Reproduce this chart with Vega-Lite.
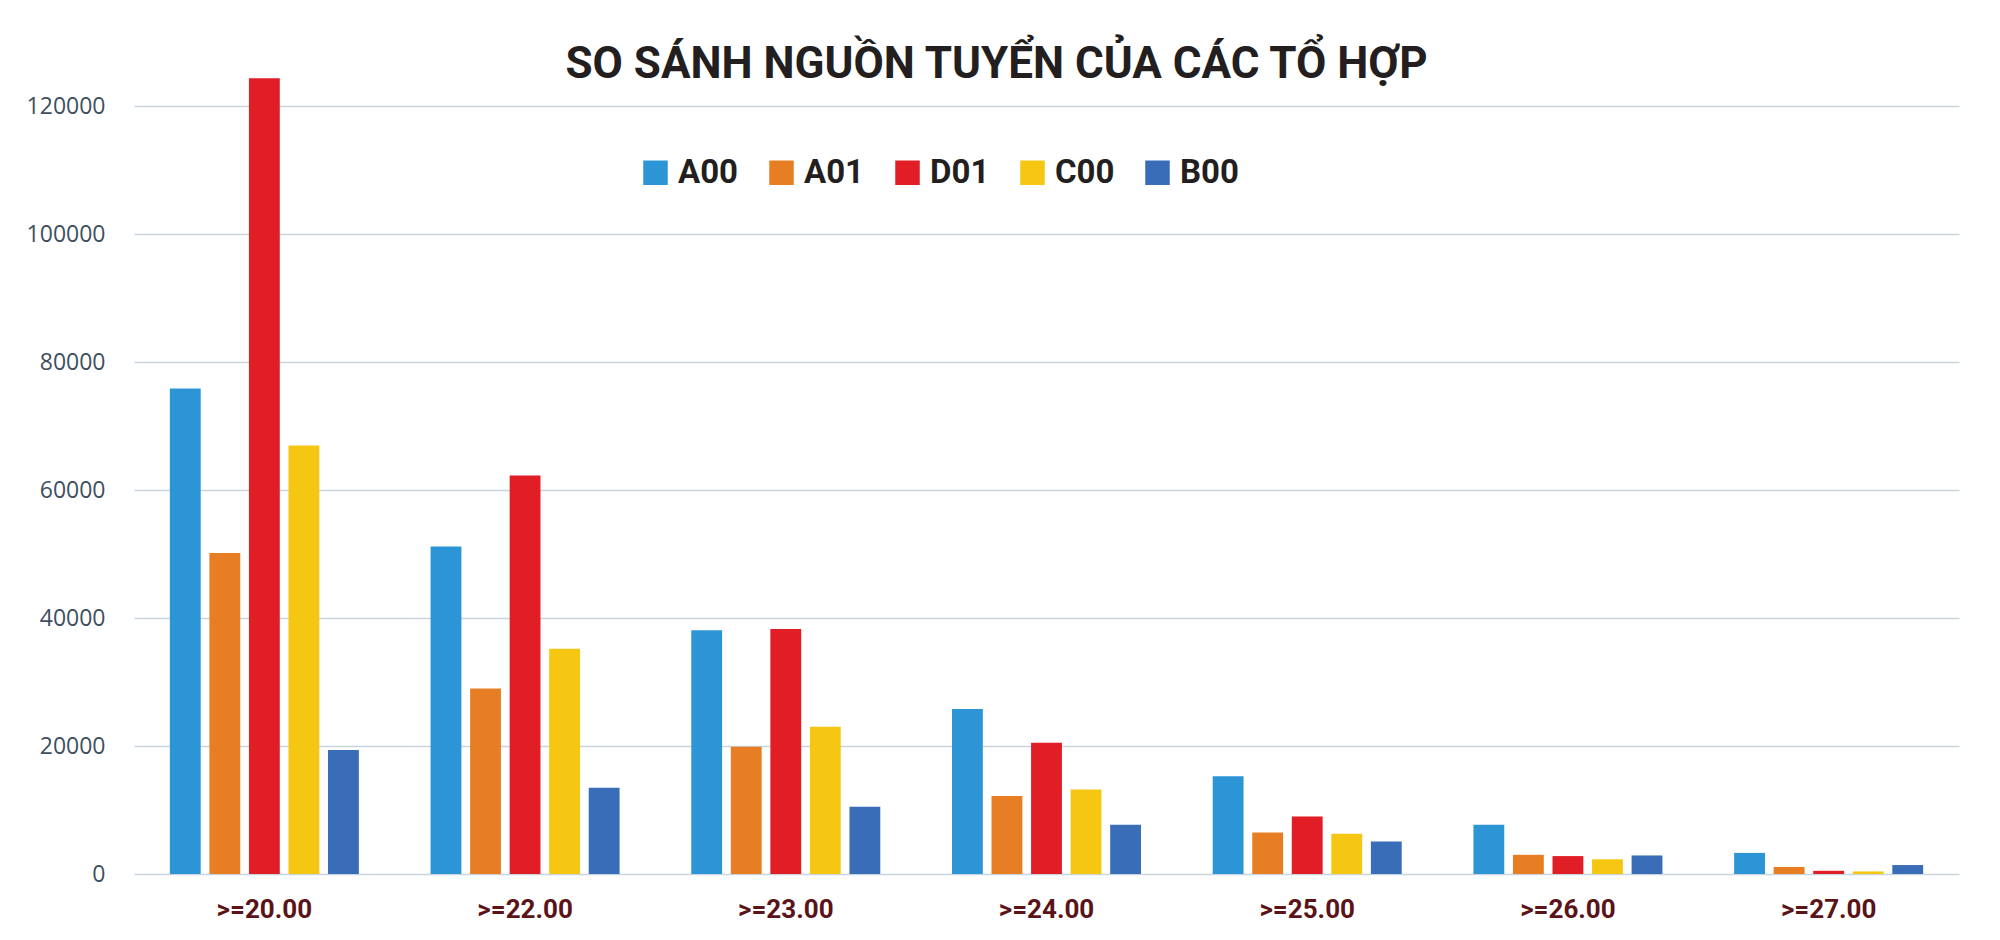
{
  "$schema": "https://vega.github.io/schema/vega-lite/v6.json",
  "autosize": {"type": "none"},
  "padding": {"left": 134, "top": 68, "right": 41, "bottom": 66},
  "width": 1825,
  "height": 806,
  "background": "white",
  "title": {
    "text": "SO SÁNH NGUỒN TUYỂN CỦA CÁC TỔ HỢP",
    "font": "Roboto, sans-serif",
    "fontSize": 44,
    "fontWeight": "bold",
    "color": "#231f20",
    "anchor": "middle",
    "frame": "group",
    "dx": -50,
    "offset": -19
  },
  "data": {
    "values": [
      {"nhom": ">=20.00", "khoi": "A00", "so": 75900},
      {"nhom": ">=20.00", "khoi": "A01", "so": 50200},
      {"nhom": ">=20.00", "khoi": "D01", "so": 124400},
      {"nhom": ">=20.00", "khoi": "C00", "so": 67000},
      {"nhom": ">=20.00", "khoi": "B00", "so": 19400},
      {"nhom": ">=22.00", "khoi": "A00", "so": 51200},
      {"nhom": ">=22.00", "khoi": "A01", "so": 29000},
      {"nhom": ">=22.00", "khoi": "D01", "so": 62300},
      {"nhom": ">=22.00", "khoi": "C00", "so": 35200},
      {"nhom": ">=22.00", "khoi": "B00", "so": 13500},
      {"nhom": ">=23.00", "khoi": "A00", "so": 38100},
      {"nhom": ">=23.00", "khoi": "A01", "so": 19900},
      {"nhom": ">=23.00", "khoi": "D01", "so": 38300},
      {"nhom": ">=23.00", "khoi": "C00", "so": 23000},
      {"nhom": ">=23.00", "khoi": "B00", "so": 10500},
      {"nhom": ">=24.00", "khoi": "A00", "so": 25800},
      {"nhom": ">=24.00", "khoi": "A01", "so": 12200},
      {"nhom": ">=24.00", "khoi": "D01", "so": 20500},
      {"nhom": ">=24.00", "khoi": "C00", "so": 13200},
      {"nhom": ">=24.00", "khoi": "B00", "so": 7700},
      {"nhom": ">=25.00", "khoi": "A00", "so": 15300},
      {"nhom": ">=25.00", "khoi": "A01", "so": 6500},
      {"nhom": ">=25.00", "khoi": "D01", "so": 9000},
      {"nhom": ">=25.00", "khoi": "C00", "so": 6300},
      {"nhom": ">=25.00", "khoi": "B00", "so": 5100},
      {"nhom": ">=26.00", "khoi": "A00", "so": 7700},
      {"nhom": ">=26.00", "khoi": "A01", "so": 3000},
      {"nhom": ">=26.00", "khoi": "D01", "so": 2800},
      {"nhom": ">=26.00", "khoi": "C00", "so": 2300},
      {"nhom": ">=26.00", "khoi": "B00", "so": 2900},
      {"nhom": ">=27.00", "khoi": "A00", "so": 3300},
      {"nhom": ">=27.00", "khoi": "A01", "so": 1100},
      {"nhom": ">=27.00", "khoi": "D01", "so": 500},
      {"nhom": ">=27.00", "khoi": "C00", "so": 400},
      {"nhom": ">=27.00", "khoi": "B00", "so": 1400}
    ]
  },
  "mark": {"type": "bar"},
  "encoding": {
    "x": {
      "field": "nhom",
      "type": "nominal",
      "sort": null,
      "title": null,
      "scale": {"paddingInner": 0.275, "paddingOuter": 0.1375},
      "axis": {
        "labelAngle": 0,
        "ticks": false,
        "domain": false,
        "labelPadding": 22,
        "labelFont": "Roboto, sans-serif",
        "labelFontSize": 26,
        "labelFontWeight": "bold",
        "labelColor": "#5a1317"
      }
    },
    "xOffset": {
      "field": "khoi",
      "type": "nominal",
      "sort": ["A00", "A01", "D01", "C00", "B00"],
      "scale": {"paddingInner": 0.22, "paddingOuter": 0}
    },
    "y": {
      "field": "so",
      "type": "quantitative",
      "title": null,
      "scale": {"domain": [0, 126000], "nice": false},
      "axis": {
        "values": [0, 20000, 40000, 60000, 80000, 100000, 120000],
        "format": "d",
        "ticks": false,
        "domain": false,
        "labelPadding": 29,
        "labelFont": "Open Sans, sans-serif",
        "labelFontSize": 23,
        "labelColor": "#3e4f60",
        "gridColor": "#c9d5de",
        "gridWidth": 1.5
      }
    },
    "color": {
      "field": "khoi",
      "type": "nominal",
      "sort": ["A00", "A01", "D01", "C00", "B00"],
      "scale": {
        "domain": ["A00", "A01", "D01", "C00", "B00"],
        "range": ["#2b95d6", "#e87e24", "#e11d26", "#f5c712", "#3a6db8"]
      },
      "legend": {
        "title": null,
        "orient": "none",
        "direction": "horizontal",
        "legendX": 505,
        "legendY": 88,
        "symbolType": "square",
        "symbolSize": 600,
        "symbolStrokeWidth": 0,
        "symbolOpacity": 1,
        "labelFont": "Roboto, sans-serif",
        "labelFontSize": 33,
        "labelFontWeight": "bold",
        "labelColor": "#231f20",
        "labelOffset": 6,
        "columnPadding": 26
      }
    }
  },
  "config": {
    "view": {"stroke": null}
  }
}
